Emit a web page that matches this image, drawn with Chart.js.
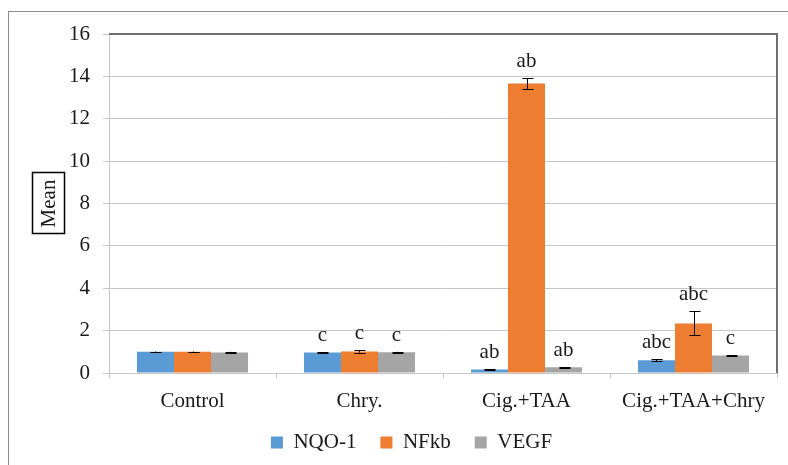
<!DOCTYPE html>
<html>
<head>
<meta charset="utf-8">
<script src="https://cdn.jsdelivr.net/npm/chart.js@4"></script>
<style>
  html, body { margin: 0; padding: 0; background: #fff; }
  canvas { display: block; }
</style>
</head>
<body>
<canvas id="chart" width="788" height="465"></canvas>
<script>
const groups = ["Control", "Chry.", "Cig.+TAA", "Cig.+TAA+Chry"]
const seriesNames = ["NQO-1", "NFkb", "VEGF"]

const nqoMean = [1.0, 0.97, 0.17, 0.60]
const nfkbMean = [1.0, 1.02, 13.66, 2.34]
const vegfMean = [0.97, 0.98, 0.27, 0.83]

const nqoErr = [0.01, 0.01, 0.02, 0.05]
const nfkbErr = [0.01, 0.06, 0.25, 0.57]
const vegfErr = [0.03, 0.02, 0.02, 0.02]

const nqoLetters = ["", "c", "ab", "abc"]
const nfkbLetters = ["", "c", "ab", "abc"]
const vegfLetters = ["", "c", "ab", "c"]

const yTicks = [0, 2, 4, 6, 8, 10, 12, 14, 16]

const colors = ["#5B9BD5", "#ED7D31", "#A5A5A5"]
const fontFamily = "'Liberation Serif', 'Times New Roman', serif"
const fontColor = "#1a1a1a"
const fontSize = 21
const gridColor = "#c6c6c6"

const errors = [nqoErr, nfkbErr, vegfErr]
const letters = [nqoLetters, nfkbLetters, vegfLetters]

const extras = {
    id: "extras",
    afterLayout(chart) {
        // legend sits a little right of centre and tucked up under the labels
        const lg = chart.legend
        lg.left += 46
        lg.top -= 6
        lg.bottom -= 6
    },
    beforeDraw(chart) {
        const ctx = chart.ctx
        ctx.save()
        ctx.fillStyle = "#fff"
        ctx.fillRect(0, 0, chart.width, chart.height)
        // outer frame
        ctx.strokeStyle = "#8c8c8c"
        ctx.lineWidth = 1
        ctx.strokeRect(8.5, 11.5, chart.width + 20, chart.height + 20)
        ctx.restore()
    },
    afterDatasetsDraw(chart) {
        const ctx = chart.ctx
        const y = chart.scales.y
        ctx.save()
        ctx.strokeStyle = "#000"
        ctx.lineWidth = 1
        ctx.fillStyle = fontColor
        ctx.font = fontSize + "px " + fontFamily
        ctx.textAlign = "center"
        ctx.textBaseline = "alphabetic"
        chart.data.datasets.forEach((ds, i) => {
            const meta = chart.getDatasetMeta(i)
            meta.data.forEach((bar, j) => {
                const v = ds.data[j]
                const e = errors[i][j]
                const yTop = y.getPixelForValue(v + e)
                const yBot = y.getPixelForValue(v - e)
                const x = Math.round(bar.x) + 0.5
                ctx.beginPath()
                ctx.moveTo(x, yTop)
                ctx.lineTo(x, yBot)
                ctx.moveTo(x - 5, Math.round(yTop) + 0.5)
                ctx.lineTo(x + 6, Math.round(yTop) + 0.5)
                ctx.moveTo(x - 5, Math.round(yBot) + 0.5)
                ctx.lineTo(x + 6, Math.round(yBot) + 0.5)
                ctx.stroke()
                const t = letters[i][j]
                if (t) ctx.fillText(t, bar.x, yTop - 11)
            })
        })
        ctx.restore()
    },
    afterDraw(chart) {
        const ctx = chart.ctx
        const a = chart.chartArea
        ctx.save()
        // dark top/right edge of plot area
        ctx.strokeStyle = "#6f6f6f"
        ctx.lineWidth = 2
        ctx.beginPath()
        ctx.moveTo(a.left, a.top)
        ctx.lineTo(a.right, a.top)
        ctx.lineTo(a.right, a.bottom)
        ctx.stroke()
        // boxed y title
        const cy = (a.top + a.bottom) / 2
        ctx.strokeStyle = "#000"
        ctx.lineWidth = 1.5
        ctx.strokeRect(32.5, cy - 31, 32, 61)
        ctx.translate(49, cy)
        ctx.rotate(-Math.PI / 2)
        ctx.fillStyle = fontColor
        ctx.font = fontSize + "px " + fontFamily
        ctx.textAlign = "center"
        ctx.textBaseline = "middle"
        ctx.fillText("Mean", 0, 0)
        ctx.restore()
    }
}

const statisticsChartCtx = document.getElementById("chart").getContext("2d")

window.statisticChart = new Chart(statisticsChartCtx, {
    type: "bar",
    data: {
        labels: groups,
        datasets: [
            { label: seriesNames[0], data: nqoMean, backgroundColor: colors[0] },
            { label: seriesNames[1], data: nfkbMean, backgroundColor: colors[1] },
            { label: seriesNames[2], data: vegfMean, backgroundColor: colors[2] },
        ],
    },
    options: {
        responsive: false,
        animation: false,
        devicePixelRatio: 1,
        layout: { padding: { top: 34, right: 11, bottom: -4, left: 0 } },
        datasets: {
            bar: { barPercentage: 1, categoryPercentage: 0.665 }
        },
        scales: {
            x: {
                afterFit: (scale) => { scale.height = 41 },
                grid: {
                    offset: true,
                    drawOnChartArea: false,
                    tickLength: 5,
                    color: gridColor,
                },
                border: { color: gridColor },
                ticks: {
                    color: fontColor,
                    padding: 11,
                    font: { family: fontFamily, size: fontSize },
                },
            },
            y: {
                min: 0,
                max: 16,
                afterFit: (scale) => { scale.width = 109 },
                afterBuildTicks: (scale) => { scale.ticks = yTicks.map(v => ({ value: v })) },
                grid: { color: gridColor, tickLength: 6 },
                border: { color: gridColor },
                ticks: {
                    color: fontColor,
                    padding: 13,
                    font: { family: fontFamily, size: fontSize },
                },
            },
        },
        plugins: {
            legend: {
                position: "bottom",
                labels: {
                    boxWidth: 12,
                    boxHeight: 12,
                    padding: 24,
                    color: fontColor,
                    font: { family: fontFamily, size: fontSize },
                },
            },
            tooltip: { enabled: false },
        },
    },
    plugins: [extras],
})
</script>
</body>
</html>
